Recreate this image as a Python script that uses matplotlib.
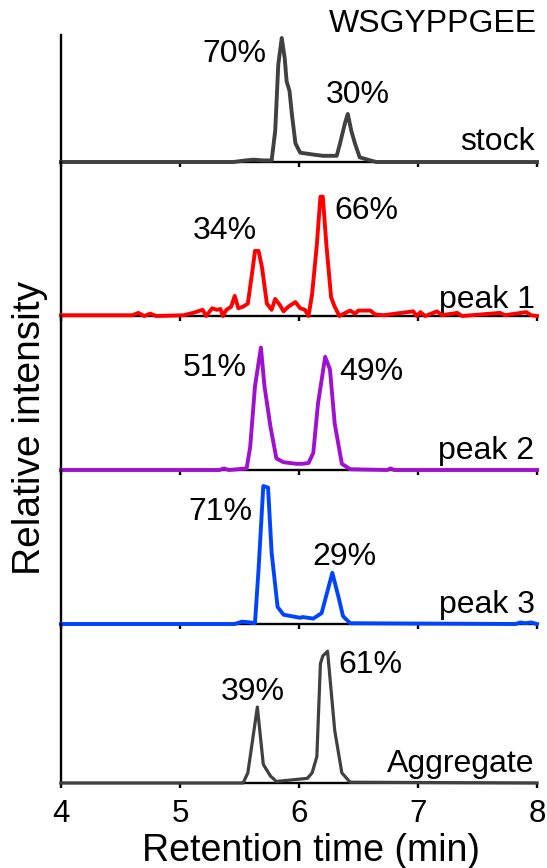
import matplotlib
matplotlib.use('Agg')
import matplotlib.pyplot as plt

plt.rcParams['font.family'] = ['Liberation Sans', 'DejaVu Sans']

# retention time (min) and relative intensity
stock_t = [4.0, 5.45, 5.55, 5.62, 5.70, 5.77, 5.80, 5.826, 5.855, 5.88, 5.896, 5.92, 5.94, 5.97,
           6.01, 6.10, 6.20, 6.317, 6.345, 6.386, 6.41, 6.44, 6.47, 6.51, 6.60, 6.65, 8.0]
stock_i = [0.0, 0.0, 0.01, 0.015, 0.01, 0.01, 0.20, 0.63, 0.80, 0.67, 0.52, 0.46, 0.31, 0.12,
           0.06, 0.05, 0.04, 0.04, 0.12, 0.25, 0.31, 0.20, 0.12, 0.03, 0.01, 0.0, 0.0]

peak1_t = [4.0, 4.60, 4.65, 4.70, 4.75, 4.80, 5.03, 5.11, 5.19, 5.22, 5.27, 5.31, 5.34, 5.36,
           5.39, 5.43, 5.46, 5.49, 5.53, 5.57, 5.61, 5.63, 5.66, 5.69, 5.73, 5.77, 5.80, 5.84,
           5.87, 5.91, 5.97, 6.01, 6.05, 6.08, 6.11, 6.15, 6.18, 6.20, 6.23, 6.27, 6.30, 6.34,
           6.39, 6.43, 6.47, 6.50, 6.60, 6.64, 6.71, 6.96, 6.99, 7.02, 7.06, 7.16, 7.20, 7.33,
           7.37, 7.69, 7.73, 7.91, 7.95, 8.0]
peak1_i = [0.005, 0.005, 0.02, 0.0, 0.015, 0.0, 0.005, 0.02, 0.04, 0.0, 0.05, 0.04, 0.045, 0.0,
           0.04, 0.06, 0.13, 0.05, 0.06, 0.08, 0.30, 0.42, 0.42, 0.31, 0.08, 0.04, 0.11, 0.07,
           0.03, 0.06, 0.09, 0.05, 0.04, 0.0, 0.14, 0.46, 0.77, 0.77, 0.46, 0.12, 0.06, 0.0,
           0.02, 0.035, 0.015, 0.035, 0.035, 0.01, 0.005, 0.03, 0.0, 0.025, 0.0, 0.03, 0.005, 0.02,
           0.0, 0.02, 0.005, 0.025, 0.005, 0.0]

peak2_t = [4.0, 5.33, 5.37, 5.41, 5.56, 5.59, 5.63, 5.68, 5.71, 5.76, 5.81, 5.87, 5.98, 6.03,
           6.08, 6.12, 6.16, 6.22, 6.26, 6.30, 6.36, 6.43, 6.74, 6.77, 6.80, 8.0]
peak2_i = [0.0, 0.0, 0.01, 0.0, 0.01, 0.15, 0.54, 0.79, 0.54, 0.28, 0.075, 0.05, 0.04, 0.04,
           0.045, 0.11, 0.43, 0.73, 0.65, 0.30, 0.04, 0.005, 0.0, 0.01, 0.0, 0.0]

peak3_t = [4.0, 5.46, 5.52, 5.59, 5.63, 5.66, 5.70, 5.74, 5.77, 5.82, 5.87, 6.01, 6.03, 6.12,
           6.19, 6.28, 6.33, 6.37, 6.43, 7.82, 7.86, 7.90, 7.95, 8.0]
peak3_i = [0.0, 0.0, 0.015, 0.01, 0.005, 0.35, 0.89, 0.88, 0.46, 0.11, 0.06, 0.04, 0.045, 0.035,
           0.07, 0.33, 0.18, 0.05, 0.005, 0.0, 0.01, 0.005, 0.01, 0.0]

agg_t = [4.0, 5.53, 5.57, 5.65, 5.70, 5.76, 5.81, 6.07, 6.11, 6.15, 6.18, 6.20, 6.24, 6.30,
         6.36, 6.43, 8.0]
agg_i = [0.0, 0.0, 0.065, 0.49, 0.12, 0.045, 0.01, 0.03, 0.065, 0.17, 0.77, 0.82, 0.85, 0.34,
         0.065, 0.005, 0.0]

names = ['stock', 'peak 1', 'peak 2', 'peak 3', 'Aggregate']
colors = ['#404040', '#ff0000', '#a010d0', '#0044ff', '#404040']
series = [(stock_t, stock_i), (peak1_t, peak1_i), (peak2_t, peak2_i),
          (peak3_t, peak3_i), (agg_t, agg_i)]
# percentage labels: (text, x, y, ha)
pct_labels = [
    [('70%', 5.73, 0.70, 'right'), ('30%', 6.49, 0.43, 'center')],
    [('34%', 5.65, 0.55, 'right'), ('66%', 6.30, 0.68, 'left')],
    [('51%', 5.56, 0.66, 'right'), ('49%', 6.34, 0.63, 'left')],
    [('71%', 5.61, 0.72, 'right'), ('29%', 6.38, 0.43, 'center')],
    [('39%', 5.61, 0.59, 'center'), ('61%', 6.33, 0.76, 'left')],
]
name_y = [0.08, 0.05, 0.07, 0.07, 0.07]
xticks = [4, 5, 6, 7, 8]

W, H = 547, 868
fig = plt.figure(figsize=(W / 100, H / 100), dpi=100)

left, right = 61, 537
tops = [35, 162, 316, 470, 624]
bottoms = [162, 316, 470, 624, 783]
unit = 155.0  # pixels per unit of relative intensity

for k in range(5):
    top, bot = tops[k], bottoms[k]
    ax = fig.add_axes([left / W, 1 - bot / H, (right - left) / W, (bot - top) / H])
    ax.set_xlim(4, 8)
    ax.set_ylim(0, (bot - top) / unit)
    ax.patch.set_visible(False)
    for s in ['top', 'right']:
        ax.spines[s].set_visible(False)
    ax.spines['left'].set_linewidth(1.7)
    ax.spines['bottom'].set_linewidth(1.7)
    ax.set_yticks([])
    ax.set_xticks(xticks)
    ax.tick_params(axis='x', direction='out', length=3.5, width=1.7, labelsize=22.5, pad=8)
    if k < 4:
        ax.set_xticklabels([])
    t, i = series[k]
    lw = 2.3 if k == 4 else 2.8
    ax.plot(t, i, color=colors[k], lw=lw, clip_on=False, zorder=5, solid_joinstyle='round')
    for txt, x, y, ha in pct_labels[k]:
        ax.text(x, y, txt, fontsize=23, ha=ha, va='center')
    ax.text(7.98, name_y[k], names[k], fontsize=23, ha='right', va='baseline')
    if k == 0:
        ax.text(8.0, 0.89, 'WSGYPPGEE', fontsize=23, ha='right', va='center')

fig.text(30 / W, 1 - 428 / H, 'Relative intensity', rotation=90, fontsize=28,
         ha='center', va='center')
fig.text(311 / W, 1 - 851 / H, 'Retention time (min)', fontsize=27, ha='center', va='center')

fig.savefig('out.png', dpi=100)
